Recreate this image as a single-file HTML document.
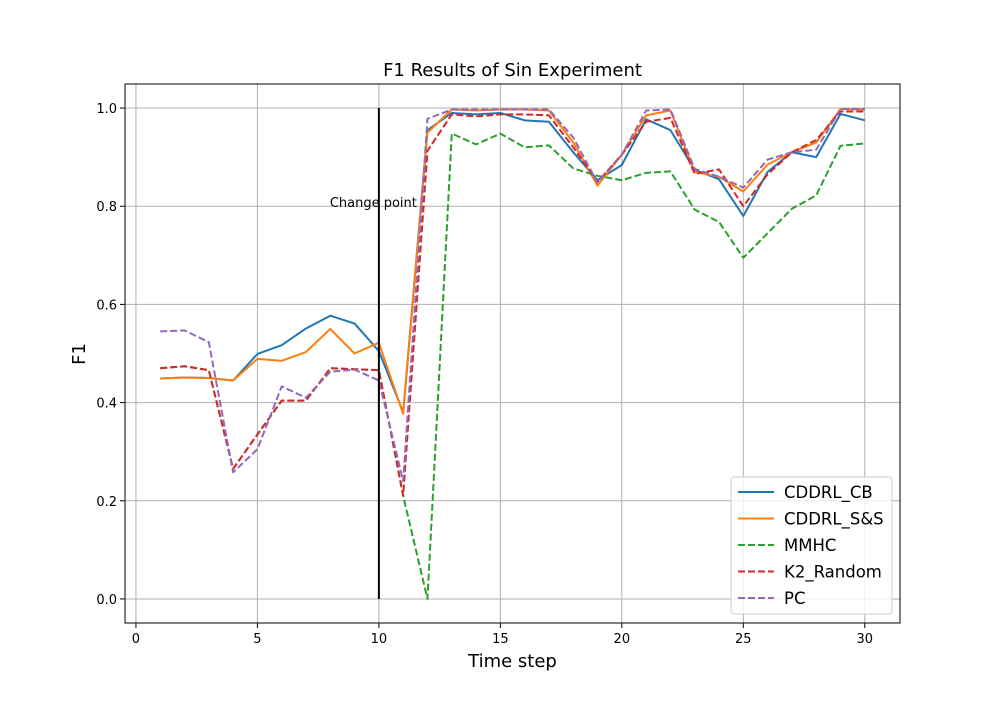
<!DOCTYPE html>
<html><head><meta charset="utf-8"><style>body{margin:0;background:#fff}svg{font-family:"DejaVu Sans","Liberation Sans",sans-serif}</style></head>
<body>
<svg id="chart" width="1000" height="700"></svg>
<script>
const timeSteps=[1,2,3,4,5,6,7,8,9,10,11,12,13,14,15,16,17,18,19,20,21,22,23,24,25,26,27,28,29,30];
const cddrlCB=[0.449,0.451,0.450,0.445,0.499,0.517,0.551,0.577,0.561,0.505,0.38,0.955,0.99,0.987,0.99,0.975,0.972,0.91,0.853,0.884,0.977,0.955,0.874,0.855,0.78,0.87,0.91,0.90,0.988,0.975];
const cddrlSS=[0.449,0.451,0.450,0.445,0.489,0.485,0.503,0.55,0.50,0.522,0.377,0.95,0.997,0.995,0.997,0.997,0.995,0.93,0.842,0.905,0.985,0.995,0.87,0.86,0.83,0.885,0.91,0.93,0.998,0.997];
const mmhc=[0.47,0.474,0.466,0.265,0.335,0.404,0.404,0.47,0.468,0.466,0.21,0.0,0.948,0.926,0.948,0.92,0.924,0.877,0.862,0.853,0.868,0.871,0.793,0.768,0.695,0.745,0.795,0.822,0.923,0.928];
const k2Random=[0.47,0.474,0.466,0.265,0.335,0.404,0.404,0.47,0.468,0.466,0.21,0.913,0.987,0.983,0.987,0.987,0.985,0.92,0.85,0.905,0.972,0.98,0.866,0.875,0.80,0.865,0.91,0.935,0.993,0.993];
const pc=[0.545,0.547,0.523,0.258,0.305,0.433,0.41,0.463,0.467,0.445,0.24,0.978,0.997,0.997,0.997,0.997,0.997,0.94,0.848,0.905,0.995,0.997,0.876,0.86,0.838,0.895,0.91,0.915,0.998,0.998];
const xTicks=[0,5,10,15,20,25,30];
const yTicks=[0.0,0.2,0.4,0.6,0.8,1.0];
const changePoint=10;

const L=125,R=900,T=84,B=623;
const xMin=-0.45,xMax=31.45,yMin=-0.049,yMax=1.049;
const X=v=>L+(v-xMin)/(xMax-xMin)*(R-L);
const Y=v=>B-(v-yMin)/(yMax-yMin)*(B-T);
const svg=document.getElementById('chart');
const NS='http://www.w3.org/2000/svg';
function mk(tag,attrs,parent){const e=document.createElementNS(NS,tag);for(const k in attrs)e.setAttribute(k,attrs[k]);(parent||svg).appendChild(e);return e;}

const grid=mk('g',{});


xTicks.forEach(t=>{
  mk('line',{x1:X(t),x2:X(t),y1:T,y2:B,stroke:'#b0b0b0','stroke-width':1},grid);
  mk('line',{x1:X(t),x2:X(t),y1:B,y2:B+5,stroke:'#000'},grid);
  const tx=mk('text',{x:X(t),y:B+20,'text-anchor':'middle','font-size':13});
  tx.textContent=t;
  
  
});
yTicks.forEach(t=>{
  mk('line',{x1:L,x2:R,y1:Y(t),y2:Y(t),stroke:'#b0b0b0','stroke-width':1},grid);
  mk('line',{x1:L-5,x2:L,y1:Y(t),y2:Y(t),stroke:'#000'},grid);
  const tx=mk('text',{x:L-8,y:Y(t)+5,'text-anchor':'end','font-size':13});
  tx.textContent=t.toFixed(1);
  
  
});

const series=[
 {name:'CDDRL_CB',data:cddrlCB,color:'#1f77b4',dash:''},
 {name:'CDDRL_S&S',data:cddrlSS,color:'#ff7f0e',dash:''},
 {name:'MMHC',data:mmhc,color:'#2ca02c',dash:'7,3'},
 {name:'K2_Random',data:k2Random,color:'#d62728',dash:'7,3'},
 {name:'PC',data:pc,color:'#9467bd',dash:'7,3'}
];
series.forEach(s=>{
  const p=mk('polyline',{points:s.data.map((v,i)=>X(timeSteps[i])+','+Y(v)).join(' '),fill:'none',stroke:s.color,'stroke-width':2,'stroke-dasharray':s.dash,'stroke-linejoin':'round'});
  
  
});

const cp=mk('line',{x1:X(changePoint),x2:X(changePoint),y1:Y(0),y2:Y(1),stroke:'#000','stroke-width':2});


const cpt=mk('text',{x:X(changePoint)+38,y:Y(0.8)+1,'text-anchor':'end','font-size':13});
cpt.textContent='Change point';



const frame=mk('rect',{x:L,y:T,width:R-L,height:B-T,fill:'none',stroke:'#000','stroke-width':1});



const title=mk('text',{x:(L+R)/2,y:76,'text-anchor':'middle','font-size':18});
title.textContent='F1 Results of Sin Experiment';


const xl=mk('text',{x:(L+R)/2,y:667,'text-anchor':'middle','font-size':18});
xl.textContent='Time step';


const yl=mk('text',{x:85,y:354,'text-anchor':'middle','font-size':18,transform:'rotate(-90 85 354)'});
yl.textContent='F1';



const lg=mk('g',{});


mk('rect',{x:731,y:477,width:161,height:137,rx:3,fill:'#fff','fill-opacity':0.8,stroke:'#ccc'},lg);
series.forEach((s,i)=>{
  const y=492+i*26.5;
  const e=mk('g',{},lg);
  
  
  mk('line',{x1:738,x2:774,y1:y,y2:y,stroke:s.color,'stroke-width':2,'stroke-dasharray':s.dash},e);
  const t=mk('text',{x:784,y:y+6,'font-size':16.5},e);
  t.textContent=s.name;
});
</script>
</body></html>
